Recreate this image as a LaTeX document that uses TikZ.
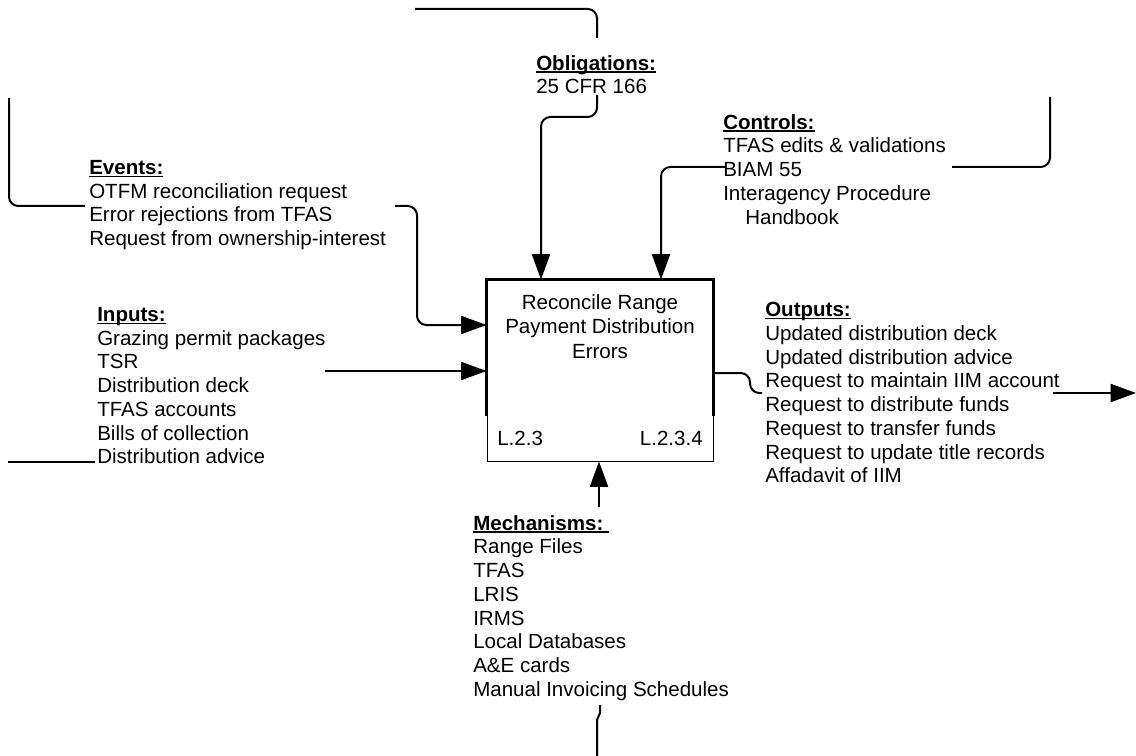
\documentclass[tikz,border=0pt]{standalone}
\usepackage{fontspec}
\setmainfont{Liberation Sans}
\usetikzlibrary{arrows.meta}
% bold heading with a close underline
\newcommand{\hd}[1]{\leavevmode\setbox0\hbox{\textbf{#1}}\rlap{\rule[-2pt]{\wd0}{1.1pt}}\box0}
\begin{document}
\begin{tikzpicture}[x=0.75pt,y=-0.75pt,
  every node/.style={font=\fontsize{15.4pt}{17.8pt}\selectfont},
  conn/.style={line width=1.5pt, rounded corners=7pt},
  arr/.style={conn, -{Triangle[length=19pt,width=13.5pt]}},
  block/.style={anchor=north west, inner sep=0pt, align=left},
]
\useasboundingbox (0,0) rectangle (1136,756);

% activity box: thin outline, heavier upper part
\node[draw, line width=0.75pt, minimum width=169.5pt, minimum height=135.75pt, inner sep=0pt] (box) at (600,370.5) {};
\coordinate (split) at (600,416);
\draw[line width=2pt] (box.west |- split) -- (box.north west) -- (box.north east) -- (box.east |- split);
\node[anchor=north, align=center, inner sep=0pt, font=\fontsize{15.4pt}{18.4pt}\selectfont] (title) at (600,294)
  {Reconcile Range\\Payment Distribution\\Errors};
\node[anchor=west, inner sep=0pt] (lnum) at (497,438) {L.2.3};
\node[anchor=east, inner sep=0pt] (cnum) at (703,438) {L.2.3.4};

% text blocks
\node[block] (obl) at (536,55) {\hd{Obligations:}\\25 CFR 166};
\node[block] (events) at (89,160) {\hd{Events:}\\OTFM reconciliation request\\Error rejections from TFAS\\Request from ownership-interest};
\node[block] (controls) at (723,114) {\hd{Controls:}\\TFAS edits \& validations\\BIAM 55\\Interagency Procedure\\\hspace*{16.5pt}Handbook};
\node[block] (inputs) at (97,307) {\hd{Inputs:}\\Grazing permit packages\\TSR\\Distribution deck\\TFAS accounts\\Bills of collection\\Distribution advice};
\node[block] (outputs) at (765,302) {\hd{Outputs:}\\Updated distribution deck\\Updated distribution advice\\Request to maintain IIM account\\Request to distribute funds\\Request to transfer funds\\Request to update title records\\Affadavit of IIM};
\node[block] (mech) at (473,515) {\hd{Mechanisms:\ }\\Range Files\\TFAS\\LRIS\\IRMS\\Local Databases\\A\&E cards\\Manual Invoicing Schedules};

% obligations
\coordinate (oblA) at (415,9);
\coordinate (oblB) at (597,38);
\coordinate (oblC) at (597,95);
\coordinate (oblK) at (541,117);
\draw[conn] (oblA) -- (597,9) -- (oblB);
\draw[arr] (oblC) -- (597,117) -- (oblK) -- (oblK |- box.north);

% events
\coordinate (evA) at (9,98);
\coordinate (evB) at (85,206);
\coordinate (evC) at (395,206);
\coordinate (evK) at (417,325);
\draw[conn] (evA) -- (9,206) -- (evB);
\draw[arr] (evC) -- (417,206) -- (evK) -- (evK -| box.west);

% controls
\coordinate (ctA) at (1050,97);
\coordinate (ctB) at (952,167);
\coordinate (ctC) at (725,167);
\coordinate (ctK) at (661,167);
\draw[conn] (ctA) -- (1050,167) -- (ctB);
\draw[arr] (ctC) -- (ctK) -- (ctK |- box.north);

% inputs
\coordinate (inA) at (8,462);
\coordinate (inB) at (95,462);
\coordinate (inC) at (325,371);
\draw[line width=1.2pt] (inA) -- (inB);
\draw[arr] (inC) -- (inC -| box.west);

% outputs
\coordinate (outK) at (713,373);
\coordinate (outB) at (762,393);
\coordinate (outC) at (1053,393);
\coordinate (outD) at (1136,393);
\draw[conn] (box.east |- outK) -- (750,373) -- (750,393) -- (outB);
\draw[arr] (outC) -- (outD);

% mechanisms
\coordinate (mcA) at (599,507);
\coordinate (mcB) at (600,705);
\coordinate (mcC) at (597,756);
\draw[arr] (mcA) -- (mcA |- box.south);
\draw[line width=1.5pt] (mcB) -- (600,713) -- (597,720) -- (mcC);
\end{tikzpicture}
\end{document}
